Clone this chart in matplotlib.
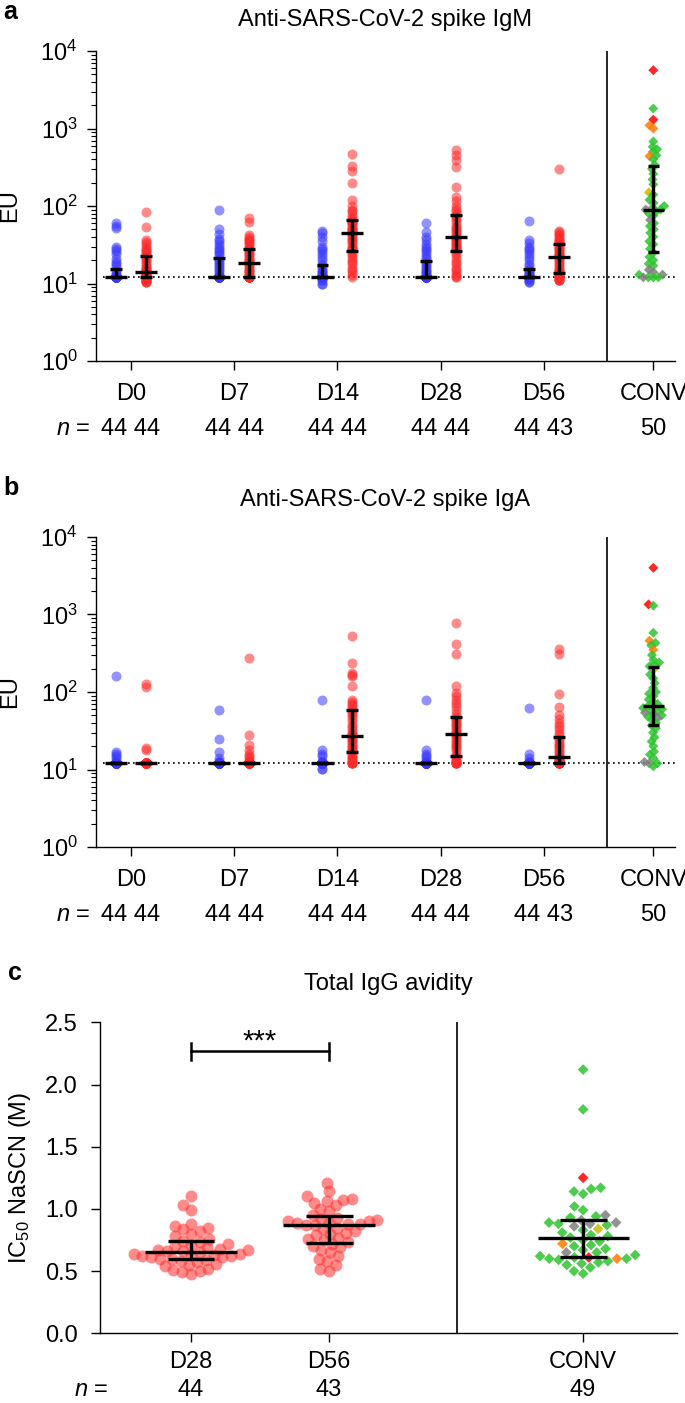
import numpy as np
import matplotlib
matplotlib.use('Agg')
import matplotlib.pyplot as plt
import matplotlib.transforms as mtransforms
from matplotlib.ticker import LogLocator, NullFormatter

plt.rcParams['font.family'] = ['Liberation Sans', 'DejaVu Sans']
plt.rcParams['mathtext.fontset'] = 'custom'
plt.rcParams['mathtext.rm'] = 'Liberation Sans'
plt.rcParams['mathtext.it'] = 'Liberation Sans:italic'
plt.rcParams['mathtext.bf'] = 'Liberation Sans:bold'

# ---------------- data ----------------
days = ['D0', 'D7', 'D14', 'D28', 'D56']
lod = 12

# IgM, EU (blue group / red group per day)
igm_blue = [
    [61, 55, 52, 30, 28, 26, 24, 21, 19, 18, 17, 15, 14, 13, 13] + [12] * 29,
    [88, 50, 44, 38, 35, 32, 30, 28, 26, 25, 23, 21, 20, 19, 18, 17, 16, 15, 14, 13, 13] + [12] * 23,
    [48, 45, 40, 35, 30, 28, 26, 24, 22, 20, 18, 17, 16, 15, 14, 14, 13, 13, 13, 12, 12] + [12] * 19 + [11, 11, 10, 10],
    [60, 46, 40, 36, 32, 30, 28, 26, 24, 22, 21, 19, 18, 17, 16, 15, 14, 14, 13, 13, 12] + [12] * 23,
    [64, 36, 33, 30, 28, 26, 24, 22, 20, 18, 17, 15, 15, 14, 14, 13, 13, 13, 12, 12, 12] + [12] * 19 + [11, 11, 10.5, 10.5],
]
igm_red = [
    [84, 54, 36, 34, 32, 30, 28, 27, 26, 25, 24, 22, 21, 20, 19, 18, 17, 16, 16, 15, 15, 14,
     14, 13.5, 13, 13, 13, 12.5, 12.5, 12.5, 12, 12, 12, 12, 12, 12, 12, 11, 11, 11, 11, 10.5, 10.5, 10.5],
    [69, 62, 42, 40, 38, 36, 35, 33, 32, 30, 29, 27, 26, 25, 24, 23, 22, 21, 20, 20, 19, 19,
     18, 18, 17, 16, 15, 15, 14, 14, 13, 13, 12] + [12] * 11,
    [475, 330, 280, 200, 120, 100, 90, 85, 80, 72, 68, 64, 62, 60, 58, 55, 52, 50, 49, 48, 46, 45,
     44, 42, 40, 38, 36, 34, 32, 30, 29, 28, 27, 25, 24, 22, 20, 19, 18, 16, 15, 14, 13, 12],
    [525, 450, 390, 320, 176, 131, 115, 100, 92, 85, 80, 74, 70, 65, 60, 56, 52, 50, 47, 45, 42, 40,
     39, 38, 36, 35, 33, 32, 31, 30, 29, 28, 27, 25, 23, 21, 19, 18, 16, 15, 14, 13, 12, 12],
    [296, 48, 46, 44, 42, 40, 38, 36, 35, 34, 33, 31, 30, 29, 28, 27, 26, 25, 24, 23, 23,
     22, 21, 20, 19, 18, 17, 16, 15, 15, 14, 14, 13, 13, 12, 12, 12, 12, 12, 11, 11, 11, 11],
]
igm_conv = [5650, 1810, 1300, 1100, 1000, 680, 580, 540, 500, 450, 440, 400, 340,
            300, 260, 220, 190, 150, 140, 120, 110, 100, 95, 90, 90,
            85, 80, 75, 66, 60, 55, 50, 45, 40, 35, 32, 28,
            25, 22, 20, 18, 17, 15, 14, 13, 13, 12, 12, 12, 12]
igm_conv_cat = list('rgroogggggogg' 'ggggyggggggk' 'gggkgggggggg' 'gggggkkkggggk')

# IgA, EU
iga_blue = [
    [160, 17, 16, 15, 14, 13] + [12] * 38,
    [59, 25, 17, 14, 13] + [12] * 39,
    [78, 18, 16, 15, 13] + [12] * 37 + [10.2, 10.2],
    [80, 18, 16, 15, 14, 13] + [12] * 38,
    [62, 16, 14, 13] + [12] * 40,
]
iga_red = [
    [125, 115, 19, 18] + [12] * 40,
    [276, 28, 21, 18, 16, 15, 14, 13, 13] + [12] * 35,
    [525, 238, 178, 168, 160, 119, 80, 75, 70, 65, 62, 57, 54, 50, 46, 42, 38, 35, 32, 30, 29, 28,
     26, 25, 24, 23, 22, 21, 20, 19, 18, 18, 17, 16, 15, 14, 14, 13, 13, 12, 12, 12, 12, 12],
    [781, 422, 305, 119, 98, 88, 80, 72, 65, 58, 52, 47, 45, 43, 41, 39, 37, 35, 33, 31, 30, 29,
     28, 26, 25, 23, 22, 21, 20, 19, 18, 16, 15, 14, 14, 13, 13, 13, 12, 12, 12, 12, 12, 12],
    [361, 305, 93, 64, 50, 45, 40, 36, 33, 30, 28, 25, 24, 22, 21, 20, 19, 18, 17, 16, 15,
     14.5, 14, 14, 14, 13.5, 13, 13, 13, 13, 12.5, 12.5] + [12] * 11,
]
iga_conv = [4000, 1350, 1300, 580, 460, 430, 400, 350, 300, 260, 240, 225, 215,
            195, 168, 150, 130, 113, 100, 95, 88, 80, 75, 70,
            67, 64, 62, 60, 58, 56, 54, 52, 50, 48, 46, 44, 40,
            37, 34, 30, 26, 23, 20, 17, 15.6, 14, 12.5, 12, 12, 11]
iga_conv_cat = list('rrggoggoggggg' 'ygggggggggg' 'ggggggkkggkgg' 'gggggggggkkgg')

# total IgG avidity, IC50 NaSCN (M)
avid_d28 = [1.10, 1.03, 0.99, 0.88, 0.86, 0.85, 0.84, 0.82, 0.80, 0.78, 0.76,
            0.74, 0.73, 0.72, 0.71, 0.70, 0.69, 0.68, 0.67, 0.67, 0.66, 0.66,
            0.65, 0.64, 0.64, 0.63, 0.63, 0.62, 0.62, 0.61, 0.61, 0.60, 0.60,
            0.59, 0.58, 0.57, 0.56, 0.55, 0.54, 0.52, 0.51, 0.50, 0.49, 0.48]
avid_d56 = [1.21, 1.14, 1.10, 1.08, 1.07, 1.06, 1.05, 1.03, 1.00, 0.98, 0.95,
            0.93, 0.92, 0.91, 0.90, 0.90, 0.89, 0.89, 0.88, 0.88, 0.87,
            0.87, 0.85, 0.84, 0.82, 0.81, 0.80, 0.79, 0.77, 0.76, 0.75, 0.73,
            0.72, 0.70, 0.69, 0.67, 0.65, 0.62, 0.60, 0.58, 0.55, 0.52, 0.50]
avid_conv = [2.12, 1.80, 1.25, 1.17, 1.16, 1.14, 1.12, 1.02, 0.99, 0.95, 0.94, 0.93,
             0.91, 0.89, 0.89, 0.88, 0.88, 0.87, 0.86, 0.84, 0.83, 0.81, 0.79, 0.78,
             0.77, 0.75, 0.74, 0.72, 0.71, 0.70, 0.68, 0.67, 0.65, 0.65, 0.63, 0.62,
             0.61, 0.61, 0.60, 0.60, 0.60, 0.59, 0.58, 0.57, 0.56, 0.55, 0.53, 0.50, 0.48]
avid_conv_cat = list('ggrggggggkgg' 'kkgkggkygggg' 'gggogggggkgg' 'rgogggggggggg')

BLUE = '#3a3aff'
RED = '#ff2a2a'
CAT_COLORS = {'g': '#2fc42f', 'r': '#ff0000', 'o': '#ff7a00', 'y': '#c4bc00', 'k': '#7f7f7f'}

W, H = 685, 1403
FS = 17


def px_axes(left, top, right, bottom):
    return [left / W, 1 - bottom / H, (right - left) / W, (bottom - top) / H]


def swarm(ypix, d):
    # simple beeswarm: offsets in pixels
    ypix = np.asarray(ypix, float)
    xs = np.zeros(len(ypix))
    placed = []
    for i in np.argsort(ypix, kind='stable'):
        y = ypix[i]
        cands = [0.0]
        for px, py in placed:
            dy = abs(py - y)
            if dy < d:
                dx = np.sqrt(d * d - dy * dy)
                cands += [px - dx, px + dx]
        cands.sort(key=abs)
        for c in cands:
            if all((c - px) ** 2 + (y - py) ** 2 >= d * d - 1e-6 for px, py in placed):
                xs[i] = c
                break
        placed.append((xs[i], y))
    return xs


def summary(ax, x, vals, half_med, half_cap, lw):
    q1, med, q3 = np.percentile(vals, [25, 50, 75])
    kw = dict(color='black', lw=lw, solid_capstyle='butt', zorder=5)
    ax.plot([x - half_med, x + half_med], [med, med], **kw)
    ax.plot([x, x], [q1, q3], **kw)
    ax.plot([x - half_cap, x + half_cap], [q1, q1], **kw)
    ax.plot([x - half_cap, x + half_cap], [q3, q3], **kw)


def style_axes(ax, pad_x):
    for s in ['top', 'right']:
        ax.spines[s].set_visible(False)
    for s in ['left', 'bottom']:
        ax.spines[s].set_linewidth(1.0)
    ax.tick_params(which='major', direction='out', length=6.5, width=1.0, labelsize=FS)
    ax.tick_params(which='minor', direction='out', length=3.6, width=0.8)
    ax.tick_params(axis='x', pad=pad_x)


def log_panel(fig, ax, blue, red, conv, conv_cat, title, title_off):
    conv_x, div_x, dx = 5.06, 4.61, 0.145
    ax.set_yscale('log')
    ax.set_ylim(1, 1e4)
    ax.set_xlim(-0.343, 5.27)
    ppu = 579.4 / 5.613  # px per x unit

    ax.plot([-0.27, 5.27], [lod, lod], ls=(0, (1, 2)), color='black', lw=1.2, zorder=1)
    ax.axvline(div_x, color='black', lw=1.2, zorder=1)

    for i, (b, r) in enumerate(zip(blue, red)):
        ax.scatter(np.full(len(b), i - dx), b, s=52, color=BLUE, alpha=0.55, lw=0, zorder=2)
        ax.scatter(np.full(len(r), i + dx), r, s=52, color=RED, alpha=0.55, lw=0, zorder=2)
        summary(ax, i - dx, b, 0.107, 0.058, 2.4)
        summary(ax, i + dx, r, 0.107, 0.058, 2.4)
        ax.text(i, -0.2387, f'{len(b)} {len(r)}', transform=ax.get_xaxis_transform(),
                ha='center', va='baseline', fontsize=FS)

    ypix = np.log10(conv) * 77.5
    offs = swarm(ypix, 5.0) / ppu
    cols = [CAT_COLORS[c] for c in conv_cat]
    ax.scatter(conv_x + offs, conv, s=26, marker='D', c=cols, alpha=0.85, lw=0, zorder=3)
    summary(ax, conv_x, conv, 0.1, 0.055, 2.4)
    ax.text(conv_x, -0.2387, f'{len(conv)}', transform=ax.get_xaxis_transform(),
            ha='center', va='baseline', fontsize=FS)
    ax.text(-0.0097, -0.2387, r'$\mathit{n}$ =', transform=ax.transAxes,
            ha='right', va='baseline', fontsize=FS)

    ax.set_xticks(list(range(len(days))) + [conv_x])
    ax.set_xticklabels(days + ['CONV'])
    # nudge CONV label left so it stays inside the figure
    shift = mtransforms.ScaledTranslation(-6 / 100, 0, fig.dpi_scale_trans)
    lab = ax.get_xticklabels()[-1]
    lab.set_transform(lab.get_transform() + shift)

    ax.yaxis.set_major_locator(LogLocator(base=10, numticks=10))
    ax.yaxis.set_minor_locator(LogLocator(base=10, subs=np.arange(2, 10), numticks=20))
    ax.yaxis.set_minor_formatter(NullFormatter())
    style_axes(ax, 9)
    ax.tick_params(axis='y', pad=6.5)
    ax.set_ylabel('EU', fontsize=FS, va='center')
    ax.yaxis.set_label_coords(-0.148, 0.5)
    ax.text(0.5, 1 + title_off / 310, title, transform=ax.transAxes,
            ha='center', va='center', fontsize=FS)


fig = plt.figure(figsize=(W / 100, H / 100), dpi=100)

ax_a = fig.add_axes(px_axes(95.6, 51, 675, 361))
log_panel(fig, ax_a, igm_blue, igm_red, igm_conv, igm_conv_cat,
          'Anti-SARS-CoV-2 spike IgM', 31)
fig.text(3 / W, 1.0, 'a', fontsize=18, fontweight='bold', va='top')

ax_b = fig.add_axes(px_axes(95.6, 537, 675, 847))
log_panel(fig, ax_b, iga_blue, iga_red, iga_conv, iga_conv_cat,
          'Anti-SARS-CoV-2 spike IgA', 37)
fig.text(3 / W, 1 - 495 / H, 'b', fontsize=18, fontweight='bold', va='baseline')

# panel c
ax_c = fig.add_axes(px_axes(100, 1022.3, 677, 1333.3))
conv_x, div_x = 2.84, 1.93
n_y = -0.2026
ax_c.set_ylim(0, 2.5)
ax_c.set_xlim(-0.659, 3.52)
ax_c.axvline(div_x, color='black', lw=1.2, zorder=1)
for x, vals in [(0, avid_d28), (1, avid_d56)]:
    offs = swarm(np.array(vals) * 124.4, 9.0) / 138.0
    ax_c.scatter(x + offs, vals, s=74, color=RED, alpha=0.55, lw=0, zorder=2)
    summary(ax_c, x, vals, 0.33, 0.17, 2.4)
    ax_c.text(x, n_y, f'{len(vals)}', transform=ax_c.get_xaxis_transform(),
              ha='center', va='baseline', fontsize=FS)
offs = swarm(np.array(avid_conv) * 124.4, 9.5) / 138.0
cols = [CAT_COLORS[c] for c in avid_conv_cat]
ax_c.scatter(conv_x + offs, avid_conv, s=30, marker='D', c=cols, alpha=0.85, lw=0, zorder=3)
summary(ax_c, conv_x, avid_conv, 0.33, 0.17, 2.4)
ax_c.text(conv_x, n_y, f'{len(avid_conv)}', transform=ax_c.get_xaxis_transform(),
          ha='center', va='baseline', fontsize=FS)
ax_c.text(0.014, n_y, r'$\mathit{n}$ =', transform=ax_c.transAxes,
          ha='right', va='baseline', fontsize=FS)

# significance bracket
ax_c.plot([0, 1], [2.27, 2.27], color='black', lw=1.8)
ax_c.plot([0, 0], [2.20, 2.33], color='black', lw=1.8)
ax_c.plot([1, 1], [2.20, 2.33], color='black', lw=1.8)
ax_c.text(0.5, 2.28, '***', ha='center', va='baseline', fontsize=21)

ax_c.set_xticks([0, 1, conv_x])
ax_c.set_xticklabels(['D28', 'D56', 'CONV'])
ax_c.set_yticks([0, 0.5, 1.0, 1.5, 2.0, 2.5])
ax_c.set_yticklabels(['0.0', '0.5', '1.0', '1.5', '2.0', '2.5'])
style_axes(ax_c, 6.5)
ax_c.tick_params(axis='y', pad=9.4)
ax_c.set_ylabel(r'IC$_{50}$ NaSCN (M)', fontsize=FS, va='center')
ax_c.yaxis.set_label_coords(-0.139, 0.5)
ax_c.text(0.5, 1 + 38 / 311, 'Total IgG avidity', transform=ax_c.transAxes,
          ha='center', va='center', fontsize=FS)
fig.text(8 / W, 1 - 980 / H, 'c', fontsize=18, fontweight='bold', va='baseline')

fig.savefig('out.png', dpi=100)
